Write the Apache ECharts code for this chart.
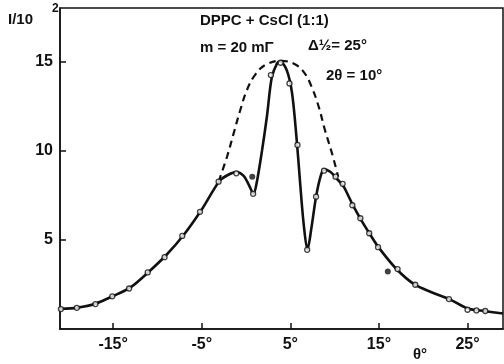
<!DOCTYPE html>
<html>
<head>
<meta charset="utf-8">
<script src="https://cdn.jsdelivr.net/npm/echarts@6/dist/echarts.min.js"></script>
<style>
  html, body { margin: 0; padding: 0; background: #fff; }
  #chart { width: 504px; height: 364px; }
</style>
</head>
<body>
<div id="chart"></div>
<script>
// measured points (open circles)
const dataTheta = [-20.9, -19.1, -17.0, -15.1, -13.2, -11.1, -9.2, -7.2, -5.2, -3.1, -1.1, 0.8, 2.8, 3.9, 4.9, 5.8, 6.9, 7.9, 8.8, 10.1, 10.9, 12.0, 12.9, 13.9, 14.9, 17.1, 19.1, 22.9, 25.0, 26.0, 27.0];
const dataI = [1.12, 1.19, 1.40, 1.83, 2.27, 3.17, 4.03, 5.22, 6.57, 8.26, 8.73, 7.58, 14.24, 14.93, 13.77, 10.32, 4.44, 7.42, 8.88, 8.54, 8.14, 6.94, 6.21, 5.37, 4.59, 3.36, 2.48, 1.68, 1.08, 1.04, 1.01];

// stray filled dots off the curve
const outTheta = [0.7, 16.0];
const outI = [8.54, 3.23];

// drawn solid curve
const fitTheta = [-21, -19, -17, -15, -13, -11, -9, -7, -5, -3, -2, -1.1, -0.3, 0.3, 0.84, 1.2, 1.8, 2.35, 2.9, 3.5, 3.85, 4.6, 5.2, 5.75, 6.1, 6.5, 6.93, 7.4, 7.9, 8.4, 8.8, 9.5, 10.2, 11, 12, 13, 14, 15, 17, 19, 21, 23, 25, 27, 29];
const fitI = [1.12, 1.2, 1.42, 1.85, 2.35, 3.2, 4.15, 5.3, 6.7, 8.3, 8.65, 8.8, 8.6, 8.1, 7.58, 8.2, 10.0, 11.9, 14.1, 14.9, 15.0, 14.5, 13.2, 10.4, 8.2, 5.9, 4.44, 5.75, 7.42, 8.55, 8.95, 8.82, 8.45, 8.0, 7.0, 6.1, 5.3, 4.55, 3.35, 2.5, 2.05, 1.66, 1.15, 1.0, 0.87];

// dashed envelope
const dashTheta = [-3.1, -2.15, -1.4, -0.65, 0.1, 1.0, 2.15, 3.85, 5.35, 6.5, 7.4, 8.2, 8.9, 9.7, 10.4];
const dashI = [8.26, 9.66, 10.97, 12.28, 13.4, 14.24, 14.8, 15.04, 14.89, 14.42, 13.58, 12.46, 11.16, 9.85, 8.54];

const xTicks = [-15, -5, 5, 15, 25];
const yTicks = [5, 10, 15];

const ink = '#111';
const font = 'Liberation Sans';

const zip = (xs, ys) => xs.map((x, i) => [x, ys[i]]);

const chart = echarts.init(document.getElementById('chart'));

const txt = (left, top, text, size) => ({
  type: 'text', left, top,
  style: { text, fill: ink, font: `bold ${size}px "${font}"` },
});

chart.setOption({
  animation: false,
  grid: {
    left: 60, right: 1, top: 8, bottom: 35,
    show: true, borderColor: ink, borderWidth: 1.5,
  },
  xAxis: {
    type: 'value', min: -21, max: 29,
    axisLine: { show: true, onZero: false, lineStyle: { color: ink, width: 1.5 } },
    axisTick: { show: true, inside: true, length: 6, customValues: xTicks, lineStyle: { color: ink, width: 1.5 } },
    axisLabel: {
      customValues: xTicks, margin: 8,
      formatter: (v) => v + '°',
      color: ink, fontFamily: font, fontWeight: 'bold', fontSize: 16,
    },
    splitLine: { show: false },
  },
  yAxis: {
    type: 'value', min: 0, max: 18,
    axisLine: { show: true, onZero: false, lineStyle: { color: ink, width: 1.5 } },
    axisTick: { show: true, inside: true, length: 6, customValues: yTicks, lineStyle: { color: ink, width: 1.5 } },
    axisLabel: {
      customValues: yTicks, margin: 7,
      color: ink, fontFamily: font, fontWeight: 'bold', fontSize: 16,
    },
    splitLine: { show: false },
  },
  series: [
    {
      type: 'line', data: zip(dashTheta, dashI), smooth: 0.4, showSymbol: false,
      lineStyle: { color: ink, width: 2.2, type: [7, 5] },
    },
    {
      type: 'line', data: zip(fitTheta, fitI), smooth: 0.3, showSymbol: false,
      lineStyle: { color: ink, width: 2.6 },
    },
    {
      type: 'scatter', data: zip(dataTheta, dataI), symbolSize: 5, z: 5,
      itemStyle: { color: '#fff', borderColor: ink, borderWidth: 1.3 },
    },
    {
      type: 'scatter', data: zip(outTheta, outI), symbolSize: 6, z: 5,
      itemStyle: { color: ink },
    },
  ],
  graphic: [
    txt(8, 12, 'I/10', 15),
    txt(52, 3, '2', 12),
    txt(200, 13, 'DPPC + CsCl (1:1)', 15),
    txt(200, 40, 'm = 20 mΓ', 15),
    txt(308, 38, 'Δ½= 25°', 15),
    txt(326, 68, '2θ = 10°', 15),
    txt(413, 347, 'θ°', 15),
  ],
});
</script>
</body>
</html>
